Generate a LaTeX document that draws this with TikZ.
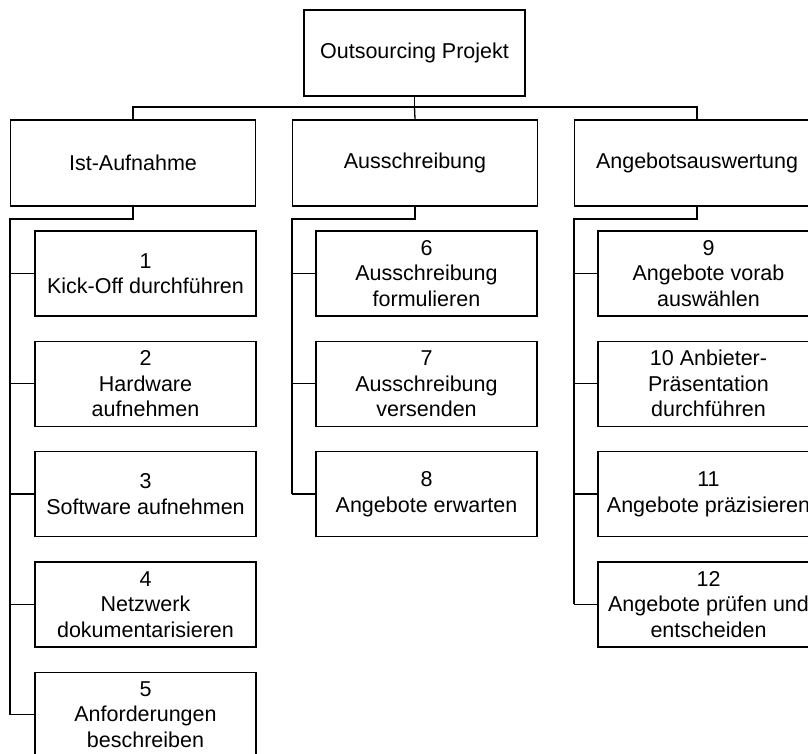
\documentclass[tikz,border=0pt]{standalone}
\usepackage{fontspec}
\setmainfont{Liberation Sans}
\usetikzlibrary{positioning}
\begin{document}
\begin{tikzpicture}[x=1pt,y=-1pt,
  every node/.style={font=\fontsize{21.5}{25.5}\selectfont, align=center, inner sep=0pt},
  box/.style={draw=black, line width=1.3pt, fill=white},
  rootbox/.style={box, minimum width=221pt, minimum height=86pt},
  phasebox/.style={box, minimum width=245pt, minimum height=86pt},
  taskbox/.style={box, minimum width=221pt, minimum height=85pt},
  link/.style={draw=black, line width=1.3pt},
  branch/.style={draw=black, line width=2pt}
]
\useasboundingbox (0,0) rectangle (808,754);
\clip (0,0) rectangle (808,754);

% root
\node[rootbox] (root) at (414.5,53) {Outsourcing Projekt};
\coordinate (bus) at (414.5,107);

% phases
\node[phasebox] (ist) at (133,163) {Ist-Aufnahme};
\node[phasebox] (aus) at (415,163) {Ausschreibung};
\node[phasebox] (ang) at (697,163) {Angebotsauswertung};

% tasks: Ist-Aufnahme
\node[taskbox] (t1) at (145.5,273.5) {1\\Kick-Off durchführen};
\node[taskbox] (t2) at (145.5,383.8) {2\\Hardware\\aufnehmen};
\node[taskbox] (t3) at (145.5,494.1) {3\\Software aufnehmen};
\node[taskbox] (t4) at (145.5,604.4) {4\\Netzwerk\\dokumentarisieren};
\node[taskbox] (t5) at (145.5,714.7) {5\\Anforderungen\\beschreiben};

% tasks: Ausschreibung
\node[taskbox] (t6) at (426.5,273.5) {6\\Ausschreibung\\formulieren};
\node[taskbox] (t7) at (426.5,383.8) {7\\Ausschreibung\\versenden};
\node[taskbox] (t8) at (426.5,494.1) {8\\Angebote erwarten};

% tasks: Angebotsauswertung
\node[taskbox] (t9)  at (708.5,273.5) {9\\Angebote vorab\\auswählen};
\node[taskbox] (t10) at (708.5,383.8) {10 Anbieter-\\Präsentation\\durchführen};
\node[taskbox] (t11) at (708.5,494.1) {11\\Angebote präzisieren};
\node[taskbox] (t12) at (708.5,604.4) {12\\Angebote prüfen und\\entscheiden};

% root to phases
\draw[link] (root.south) -- (bus);
\draw[link] (ist.north) |- (bus) -| (ang.north);
\draw[link] (bus) -- (aus.north);

% phase branches
\draw[branch] (ist.south) -- ++(0,12) -| (ist.west |- t5.west);
\draw[branch] (aus.south) -- ++(0,12) -| (aus.west |- t8.west);
\draw[branch] (ang.south) -- ++(0,12) -| (ang.west |- t12.west);

% stubs to tasks
\foreach \p/\t in {ist/t1,ist/t2,ist/t3,ist/t4,ist/t5,aus/t6,aus/t7,aus/t8,ang/t9,ang/t10,ang/t11,ang/t12}
  \draw[link] (\p.west |- \t.west) -- (\t.west);
\end{tikzpicture}
\end{document}
